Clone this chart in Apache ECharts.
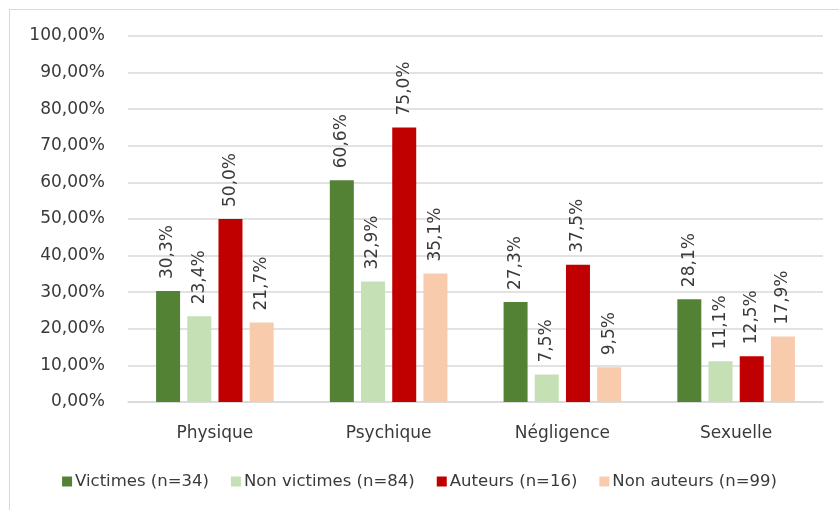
<!DOCTYPE html>
<html><head><meta charset="utf-8">
<script src="https://cdn.jsdelivr.net/npm/echarts@6/dist/echarts.min.js"></script>
<style>
html,body{margin:0;padding:0;background:#fff;}
#frame{position:absolute;left:9px;top:9px;width:900px;height:600px;border:1.5px solid #d9d9d9;box-sizing:border-box;}
#c{position:absolute;left:0;top:0;width:839px;height:510px;}
</style></head><body>
<div id="frame"></div>
<div id="c"></div>
<script>
const categories = ['Physique', 'Psychique', 'Négligence', 'Sexuelle'];
const seriesNames = ['Victimes (n=34)', 'Non victimes (n=84)', 'Auteurs (n=16)', 'Non auteurs (n=99)'];
const victimes = [30.3, 60.6, 27.3, 28.1];
const nonVictimes = [23.4, 32.9, 7.5, 11.1];
const auteurs = [50.0, 75.0, 37.5, 12.5];
const nonAuteurs = [21.7, 35.1, 9.5, 17.9];
const yTicks = [0, 10, 20, 30, 40, 50, 60, 70, 80, 90, 100];

const colors = ['#548235', '#C5E0B4', '#C00000', '#F8CBAD'];
const font = "'DejaVu Sans', sans-serif";
const txt = '#3a3a3a';
const allData = [victimes, nonVictimes, auteurs, nonAuteurs];

const chart = echarts.init(document.getElementById('c'), null, {renderer: 'canvas'});
chart.setOption({
  animation: false,
  color: colors,
  grid: {left: 128, right: 16, top: 36, bottom: 108, containLabel: false},
  legend: {
    top: 468, left: 'center', itemWidth: 10, itemHeight: 10, itemGap: 22,
    icon: 'rect',
    textStyle: {fontFamily: font, fontSize: 16.5, color: txt, padding: [0, 0, 0, -2]},
    data: seriesNames
  },
  xAxis: {
    type: 'category', data: categories,
    axisLine: {lineStyle: {color: '#d9d9d9', width: 1.5}},
    axisTick: {show: false},
    axisLabel: {fontFamily: font, fontSize: 17, color: txt, margin: 23}
  },
  yAxis: {
    type: 'value', min: yTicks[0], max: yTicks[yTicks.length - 1], interval: 10,
    axisLine: {show: false}, axisTick: {show: false},
    splitLine: {lineStyle: {color: '#d9d9d9', width: 1.5}},
    axisLabel: {
      fontFamily: font, fontSize: 17, color: txt, margin: 23,
      formatter: v => v.toFixed(2).replace('.', ',') + '%'
    }
  },
  series: seriesNames.map((n, i) => ({
    name: n, type: 'bar', data: allData[i],
    barWidth: 24, barGap: '30%',
    label: {
      show: true, position: 'top', rotate: 90, align: 'left', verticalAlign: 'middle',
      distance: 12, fontFamily: font, fontSize: 17, color: txt,
      formatter: p => p.value.toFixed(1).replace('.', ',') + '%'
    }
  }))
});
</script>
</body></html>
